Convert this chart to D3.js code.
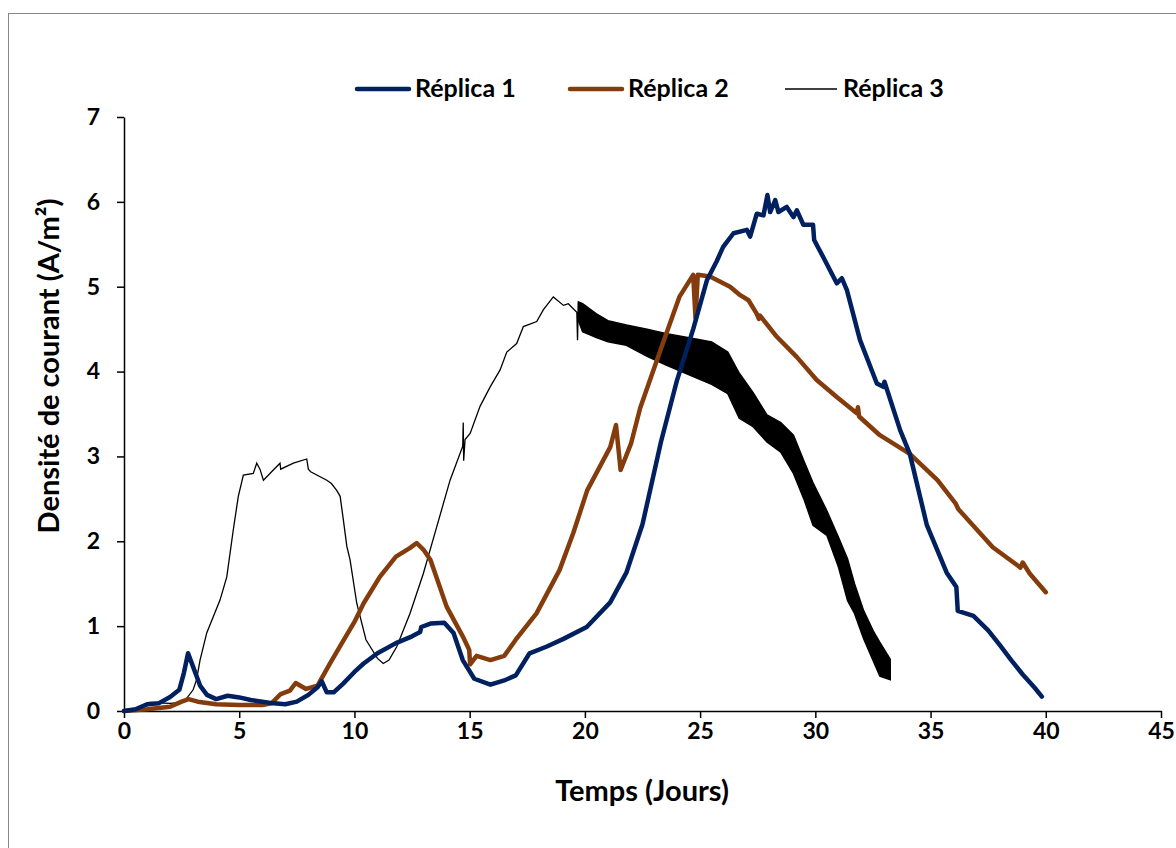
<!DOCTYPE html>
<html>
<head>
<meta charset="utf-8">
<script src="https://cdn.jsdelivr.net/npm/d3@7"></script>
<style>
  body { margin: 0; background: #fff; }
  svg text { font-family: Lato, 'Open Sans', sans-serif; font-weight: bold; fill: #000; }
</style>
</head>
<body>
<div id="chart"></div>
<script>
// Réplica 1 (blue)
const r1Time = [0, 0.5, 1.0, 1.5, 2.0, 2.4, 2.6, 2.78, 3.0, 3.3, 3.6, 4.0, 4.5, 5.0, 5.5, 6.0, 6.5, 7.0, 7.5, 8.0, 8.4, 8.58, 8.8, 9.1, 9.5, 10.0, 10.4, 11.0, 11.8, 12.5, 12.85, 12.9, 13.3, 13.9, 14.3, 14.7, 15.2, 15.9, 16.5, 17.0, 17.6, 18.35, 19.07, 20.08, 21.1, 21.8, 22.5, 23.3, 24.0, 24.7, 25.3, 25.72, 26.0, 26.45, 27.03, 27.17, 27.46, 27.75, 27.92, 28.04, 28.26, 28.4, 28.76, 29.05, 29.2, 29.48, 29.9, 29.95, 30.34, 30.93, 31.15, 31.37, 31.94, 32.67, 32.95, 33.0, 33.68, 34.1, 34.84, 35.7, 36.12, 36.18, 36.86, 37.5, 38.0, 38.5, 39.0, 39.5, 39.83]
const r1Value = [0, 0.02, 0.08, 0.09, 0.165, 0.25, 0.45, 0.68, 0.52, 0.3, 0.19, 0.14, 0.18, 0.16, 0.13, 0.11, 0.09, 0.08, 0.11, 0.19, 0.28, 0.35, 0.22, 0.22, 0.32, 0.46, 0.56, 0.68, 0.8, 0.88, 0.93, 0.99, 1.03, 1.04, 0.92, 0.6, 0.38, 0.31, 0.36, 0.42, 0.68, 0.76, 0.85, 0.99, 1.28, 1.63, 2.2, 3.17, 3.9, 4.5, 5.08, 5.3, 5.47, 5.63, 5.67, 5.59, 5.86, 5.84, 6.08, 5.88, 6.02, 5.88, 5.94, 5.82, 5.9, 5.73, 5.73, 5.55, 5.35, 5.04, 5.1, 4.96, 4.37, 3.86, 3.82, 3.88, 3.31, 3.03, 2.19, 1.63, 1.46, 1.18, 1.12, 0.95, 0.78, 0.6, 0.43, 0.28, 0.17]

// Réplica 2 (brown)
const r2Time = [0, 1.0, 2.0, 2.5, 2.8, 3.2, 4.0, 5.0, 6.0, 6.4, 6.8, 7.2, 7.45, 7.9, 8.4, 8.94, 9.5, 10.0, 10.4, 11.1, 11.8, 12.4, 12.7, 13.0, 13.3, 14.0, 14.7, 14.98, 15.02, 15.3, 15.9, 16.5, 17.0, 17.9, 18.9, 19.5, 20.1, 21.1, 21.35, 21.55, 22.0, 22.4, 23.3, 24.1, 24.7, 24.8, 24.9, 25.43, 26.3, 26.74, 27.1, 27.46, 27.55, 27.6, 28.33, 29.2, 30.06, 30.93, 31.8, 31.85, 31.9, 32.8, 34.1, 35.3, 36.1, 36.2, 37.7, 38.9, 39.0, 39.3, 40.0]
const r2Value = [0, 0.02, 0.05, 0.11, 0.14, 0.11, 0.08, 0.07, 0.07, 0.09, 0.2, 0.24, 0.33, 0.26, 0.3, 0.56, 0.82, 1.05, 1.27, 1.58, 1.82, 1.92, 1.98, 1.9, 1.78, 1.23, 0.88, 0.72, 0.55, 0.65, 0.6, 0.65, 0.84, 1.15, 1.66, 2.1, 2.6, 3.11, 3.37, 2.84, 3.15, 3.57, 4.27, 4.88, 5.14, 4.63, 5.14, 5.12, 5.0, 4.9, 4.84, 4.68, 4.62, 4.66, 4.41, 4.17, 3.9, 3.7, 3.51, 3.58, 3.47, 3.25, 3.03, 2.72, 2.44, 2.38, 1.93, 1.69, 1.75, 1.62, 1.4]

// Réplica 3 (black), smooth part
const r3Time = [0, 0.5, 1.0, 1.13, 2.0, 2.5, 2.72, 3.0, 3.15, 3.3, 3.59, 4.17, 4.46, 4.74, 4.96, 5.18, 5.61, 5.76, 5.9, 6.05, 6.48, 6.77, 6.8, 7.35, 7.93, 8.0, 8.1, 8.8, 9.0, 9.23, 9.38, 9.52, 9.67, 9.81, 10.1, 10.5, 10.68, 11.0, 11.25, 11.5, 11.84, 12.41, 12.99, 13.57, 14.15, 14.7, 14.72, 14.74, 14.8, 15.02, 15.45, 15.89, 16.32, 16.61, 17.04, 17.33, 17.91, 18.2, 18.63, 19.07, 19.28, 19.65, 19.68, 19.72]
const r3Value = [0, 0.03, 0.06, 0.1, 0.09, 0.1, 0.15, 0.25, 0.37, 0.6, 0.92, 1.31, 1.58, 2.13, 2.53, 2.78, 2.8, 2.92, 2.85, 2.72, 2.84, 2.92, 2.85, 2.92, 2.97, 2.85, 2.82, 2.72, 2.68, 2.6, 2.53, 2.25, 1.94, 1.78, 1.27, 0.84, 0.76, 0.62, 0.56, 0.6, 0.76, 1.15, 1.62, 2.17, 2.72, 3.12, 3.4, 2.95, 3.2, 3.27, 3.59, 3.82, 4.02, 4.23, 4.33, 4.53, 4.59, 4.73, 4.88, 4.78, 4.8, 4.7, 4.37, 4.82]
// Réplica 3 noisy part: upper and lower edge of the band
const r3BandTime = [19.72, 19.9, 20.5, 21.0, 21.8, 22.7, 23.5, 24.7, 25.5, 26.2, 26.7, 27.3, 27.9, 28.5, 29.05, 29.5, 29.9, 30.5, 31.0, 31.4, 31.7, 32.1, 32.5, 32.8, 33.25]
const r3BandHigh = [4.82, 4.8, 4.68, 4.6, 4.55, 4.5, 4.45, 4.39, 4.35, 4.23, 3.98, 3.75, 3.49, 3.4, 3.25, 2.95, 2.69, 2.36, 2.05, 1.79, 1.5, 1.18, 0.95, 0.81, 0.61]
const r3BandLow = [4.6, 4.47, 4.4, 4.35, 4.31, 4.18, 4.08, 3.94, 3.85, 3.74, 3.45, 3.35, 3.17, 3.05, 2.8, 2.5, 2.19, 2.07, 1.7, 1.3, 1.15, 0.85, 0.6, 0.41, 0.37]

const xTicks = [0, 5, 10, 15, 20, 25, 30, 35, 40, 45]
const yTicks = [0, 1, 2, 3, 4, 5, 6, 7]
const seriesNames = ['Réplica 1', 'Réplica 2', 'Réplica 3']
const seriesColors = ['#002060', '#843C0C', '#000000']

const width = 1176
const height = 848
const margin = { left: 124, right: 15, top: 117, bottom: 137 }

const svg = d3.select('#chart')
  .append('svg')
  .attr('width', width)
  .attr('height', height)

// outer chart frame
svg.append('rect')
  .attr('x', 8.5).attr('y', 13.5)
  .attr('width', 1200).attr('height', 900)
  .attr('fill', 'none')
  .attr('stroke', '#868686')

const x = d3.scaleLinear().domain([0, 45]).range([margin.left, width - margin.right])
const y = d3.scaleLinear().domain([0, 7]).range([height - margin.bottom, margin.top])

const xAxis = svg.append('g')
  .attr('transform', `translate(0,${y(0)})`)
  .call(d3.axisBottom(x).tickValues(xTicks).tickFormat(d3.format('d')).tickSize(7).tickPadding(5).tickSizeOuter(0))
const yAxis = svg.append('g')
  .attr('transform', `translate(${x(0)},0)`)
  .call(d3.axisLeft(y).tickValues(yTicks).tickFormat(d3.format('d')).tickSize(7).tickPadding(17).tickSizeOuter(0))

;[xAxis, yAxis].forEach(g => {
  g.select('.domain').attr('stroke', '#000').attr('stroke-width', 1.5)
  g.selectAll('.tick line').attr('stroke', '#000').attr('stroke-width', 1.5)
  g.selectAll('.tick text')
    .style('font-family', 'Lato, sans-serif')
    .style('font-weight', 'bold')
    .style('font-size', '23px')
    .attr('fill', '#000')
})

const line = d3.line().x(d => x(d[0])).y(d => y(d[1]))
const zip = (a, b) => a.map((t, i) => [t, b[i]])

// Réplica 3 first (thin black)
svg.append('path')
  .datum(zip(r3Time, r3Value))
  .attr('d', line)
  .attr('fill', 'none')
  .attr('stroke', seriesColors[2])
  .attr('stroke-width', 1.3)

const band = d3.area()
  .x(d => x(d.t))
  .y0(d => y(d.lo))
  .y1(d => y(d.hi))
svg.append('path')
  .datum(r3BandTime.map((t, i) => ({ t, hi: r3BandHigh[i], lo: r3BandLow[i] })))
  .attr('d', band)
  .attr('fill', '#000')
  .attr('stroke', '#000')
  .attr('stroke-width', 1.5)

// Réplica 2
svg.append('path')
  .datum(zip(r2Time, r2Value))
  .attr('d', line)
  .attr('fill', 'none')
  .attr('stroke', seriesColors[1])
  .attr('stroke-width', 4.5)
  .attr('stroke-linejoin', 'round')
  .attr('stroke-linecap', 'round')

// Réplica 1
svg.append('path')
  .datum(zip(r1Time, r1Value))
  .attr('d', line)
  .attr('fill', 'none')
  .attr('stroke', seriesColors[0])
  .attr('stroke-width', 4.5)
  .attr('stroke-linejoin', 'round')
  .attr('stroke-linecap', 'round')

// legend
const legendX = [357, 570, 785]
const legend = svg.append('g')
seriesNames.forEach((name, i) => {
  legend.append('line')
    .attr('x1', legendX[i]).attr('x2', legendX[i] + 52)
    .attr('y1', 89).attr('y2', 89)
    .attr('stroke', seriesColors[i])
    .attr('stroke-width', i === 2 ? 1.3 : 4.5)
    .attr('stroke-linecap', i === 2 ? 'butt' : 'round')
  legend.append('text')
    .attr('x', legendX[i] + 58)
    .attr('y', 97)
    .style('font-size', '25px')
    .text(name)
})

// axis titles
svg.append('text')
  .attr('x', 642)
  .attr('y', 801)
  .attr('text-anchor', 'middle')
  .style('font-size', '29px')
  .text('Temps (Jours)')

svg.append('text')
  .attr('transform', `translate(59,366) rotate(-90)`)
  .attr('text-anchor', 'middle')
  .style('font-size', '29px')
  .text('Densité de courant (A/m²)')
</script>
</body>
</html>
